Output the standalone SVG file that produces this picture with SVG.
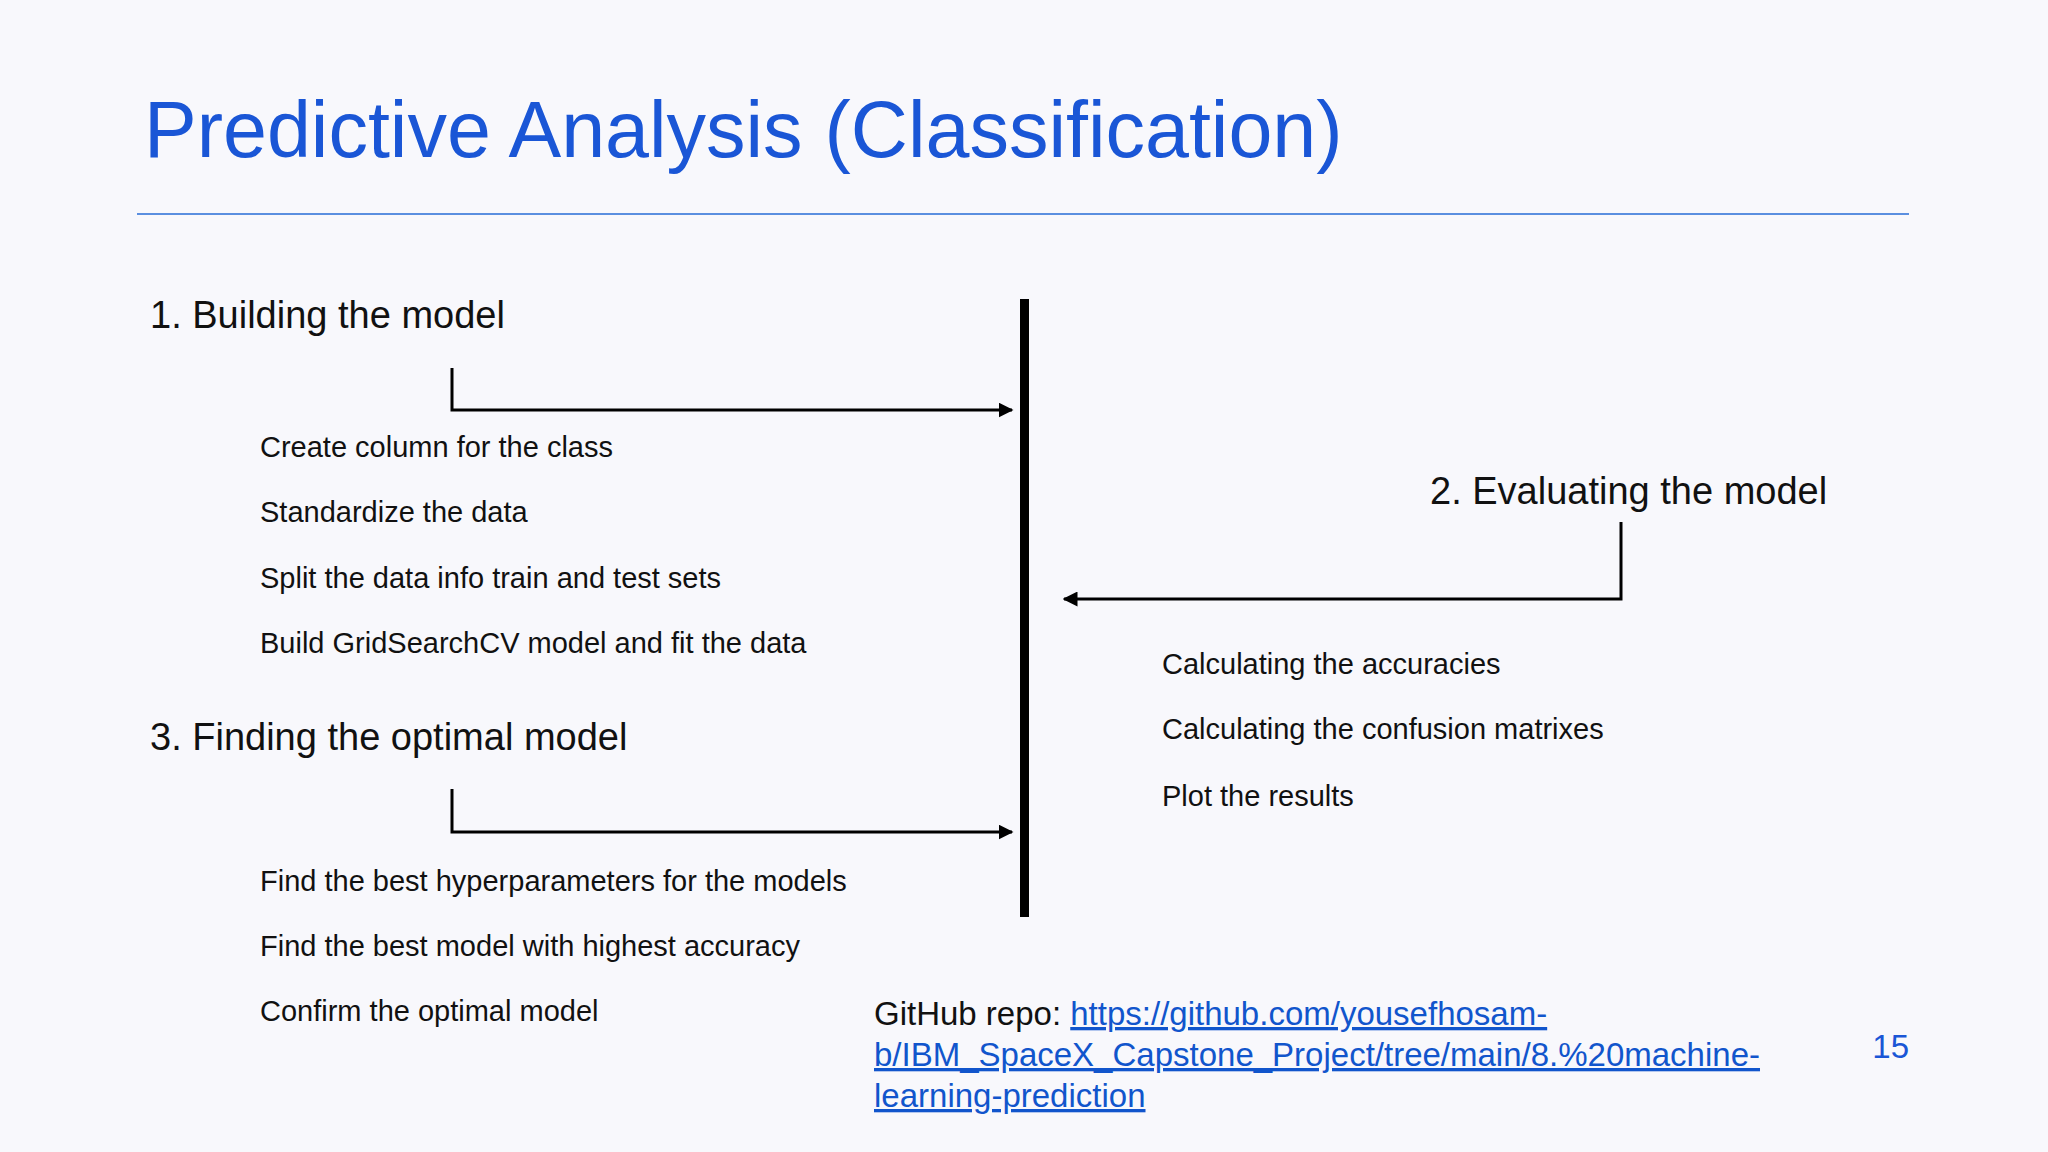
<svg xmlns="http://www.w3.org/2000/svg" width="2048" height="1152" viewBox="0 0 2048 1152">
<style>
text{font-family:"Liberation Sans",Arial,sans-serif;fill:#111}
.h{font-size:38px}
.i{font-size:29px}
.c{fill:none;stroke:#000;stroke-width:3}
.l{fill:#1155cc;text-decoration:underline}
</style>
<defs><marker id="a" viewBox="0 0 10 10" refX="9" refY="5" markerWidth="5" markerHeight="5" orient="auto"><path d="M0,0L10,5L0,10z" fill="#000"/></marker></defs>
<rect width="2048" height="1152" fill="#f8f8fc"/>
<text x="144" y="157" style="font-size:79px;fill:#1a56d6">Predictive Analysis (Classification)</text>
<line x1="137" y1="214" x2="1909" y2="214" stroke="#5b8fe0" stroke-width="2"/>
<g id="bar"><rect x="1020" y="299" width="9" height="618" fill="#000"/></g>
<g id="n1"><text class="h" x="150" y="328">1. Building the model</text>
<text class="i" x="260" y="457">Create column for the class</text>
<text class="i" x="260" y="522">Standardize the data</text>
<text class="i" x="260" y="588">Split the data info train and test sets</text>
<text class="i" x="260" y="653">Build GridSearchCV model and fit the data</text></g>
<g id="n3"><text class="h" x="150" y="750">3. Finding the optimal model</text>
<text class="i" x="260" y="891">Find the best hyperparameters for the models</text>
<text class="i" x="260" y="956">Find the best model with highest accuracy</text>
<text class="i" x="260" y="1021">Confirm the optimal model</text></g>
<g id="n2"><text class="h" x="1430" y="504">2. Evaluating the model</text>
<text class="i" x="1162" y="674">Calculating the accuracies</text>
<text class="i" x="1162" y="739">Calculating the confusion matrixes</text>
<text class="i" x="1162" y="806">Plot the results</text></g>
<g id="connectors">
<path class="c" d="M452,368V410H1012" marker-end="url(#a)"/>
<path class="c" d="M452,789V832H1012" marker-end="url(#a)"/>
<path class="c" d="M1621,522V599H1064" marker-end="url(#a)"/>
</g>
<g id="repo" style="font-size:33px">
<text x="874" y="1025" style="font-size:33px">GitHub repo: <tspan class="l">https://github.com/yousefhosam-</tspan></text>
<text x="874" y="1066" class="l" style="font-size:33px">b/IBM_SpaceX_Capstone_Project/tree/main/8.%20machine-</text>
<text x="874" y="1107" class="l" style="font-size:33px">learning-prediction</text>
</g>
<text x="1909" y="1058" text-anchor="end" style="font-size:33px;fill:#1a56d6">15</text>
</svg>
